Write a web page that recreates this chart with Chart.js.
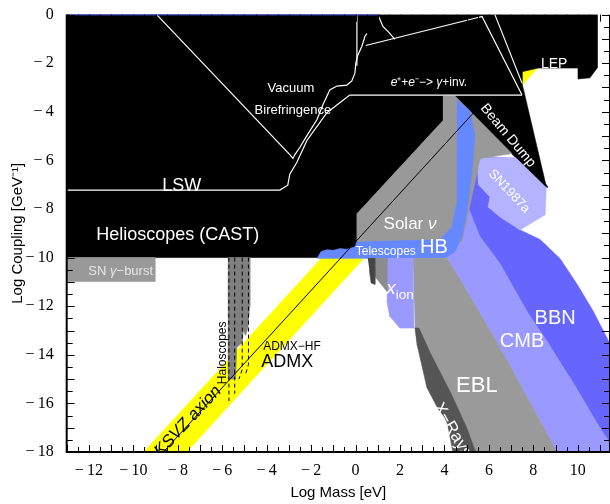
<!DOCTYPE html>
<html lang="en">
<head>
<meta charset="UTF-8">
<title>Axion-photon coupling limits</title>
<script src="https://cdn.jsdelivr.net/npm/chart.js@4.4.1/dist/chart.umd.min.js"></script>
<style>
  html, body { margin: 0; padding: 0; background: #fff; }
  #wrap { width: 610px; height: 504px; }
</style>
</head>
<body>
<div id="wrap"><canvas id="axionChart" width="610" height="504"></canvas></div>
<script>
// log10(mass / eV) and log10(coupling / GeV^-1)
const massRange = [-13, 11.45];
const couplingRange = [-18, 0];

// excluded / theory regions, as [log mass, log coupling] corners
const ksvzBand = [[-9.55, -18], [-7.6, -18], [8.6, -1.8], [6.7, -1.8]];
const lab = [[-13, 0], [10.87, 0], [10.87, -2.2], [10.55, -2.6], [10.01, -2.65], [10.01, -2.2], [8.21, -2.2],
  [7.49, -2.35], [7.49, -2.82], [8.55, -6.95], [8.66, -7.12], [8.45, -7.05], [4.47, -3.35], [3.93, -3.35],
  [3.93, -4.37], [0.06, -8.2], [0.06, -9.35], [-0.03, -10], [-13, -10]];
const bbn = [[5.3, -5.8], [6.8, -5.9], [7.4, -8.86], [8.3, -9.25], [9.2, -10.04], [9.97, -11.1], [10.69, -12.2],
  [11.45, -13.55], [11.45, -17.63], [11.0, -17.02], [9.87, -15.27], [8.66, -13.51], [7.76, -12.29],
  [6.5, -10.25], [5.6, -9.14], [5.01, -8.12]];
const cmb = [[4.7, -7.6], [5.05, -7.9], [5.6, -9.14], [6.5, -10.25], [7.76, -12.29], [8.66, -13.51], [9.87, -15.27],
  [11.0, -17.02], [11.45, -17.63], [11.45, -18], [9.07, -18], [6.5, -13.71], [4.83, -11.1], [4.11, -10.03], [4.4, -9.0]];
const sn1987a = [[5.46, -5.88], [7.2, -5.88], [8.58, -7.12], [8.53, -8.24], [7.4, -8.86], [6.5, -8.33],
  [5.96, -7.92], [6.05, -7.51], [5.51, -6.98]];
const solarNu = [[3.93, -3.35], [4.47, -3.35], [7.04, -5.72], [5.6, -5.92], [4.79, -9.35], [0.06, -9.35],
  [0.06, -8.2], [3.93, -4.37]];
const hb = [[4.56, -3.51], [5.15, -3.96], [5.37, -4.98], [5.24, -6.49], [5.01, -8.12], [4.79, -9.14], [4.47, -9.76],
  [4.02, -10.03], [-1.7, -10.03], [-1.7, -9.98], [-1.55, -9.75], [-1.3, -9.68], [-1.0, -9.7], [-0.7, -9.63],
  [-0.4, -9.66], [-0.2, -9.6], [-0.03, -9.55], [0.06, -9.35], [3.8, -9.27], [4.34, -8.73], [4.56, -7.71]];
const ebl = [[2.58, -10.03], [4.11, -10.03], [4.83, -11.1], [6.5, -13.71], [9.07, -18], [4.6, -18], [2.76, -13.55], [2.67, -12.9]];
const xRays = [[2.67, -12.9], [2.85, -12.9], [3.4, -14.0], [4.3, -15.6], [5.0, -17.0], [5.4, -18], [4.38, -18],
  [4.11, -16.69], [3.7, -16.2], [3.21, -15.35], [3.0, -14.5], [2.76, -13.55]];
const xIon = [[1.41, -10.03], [2.58, -10.03], [2.63, -12.9], [1.99, -12.9], [1.54, -12.41], [1.41, -11.8]];
const opticalGray = [[0.64, -10.03], [1.41, -10.03], [1.41, -11.39], [0.87, -10.78]];
const opticalDark = [[0.55, -10.03], [0.85, -10.03], [0.87, -11.1], [0.7, -11.05], [0.62, -10.5]];
const snGammaBurst = [[-13, -10], [-9.03, -10], [-9.03, -10.98], [-13, -10.98]];
const haloscopes = [[-5.75, -10], [-4.76, -10], [-4.76, -12.0], [-4.85, -12.9], [-4.95, -13.2], [-5.05, -13.0],
  [-5.1, -13.5], [-5.35, -13.7], [-5.4, -15.0], [-5.75, -15.0]];

// curves
const ksvzLine = [[-8.65, -18], [5.35, -4.0]];
const admxA = [[-5.70, -10], [-5.70, -15.9]];
const admxB = [[-5.44, -10], [-5.44, -15.6]];
const admxC = [[-5.1, -10], [-5.1, -14.6], [-5.25, -15.0]];
const admxD = [[-4.82, -10], [-4.82, -14.4], [-4.95, -14.8]];
const lswCurve = [[-13, -7.22], [-3.41, -7.22], [-3.05, -7.02], [-2.96, -6.57], [-2.64, -6.08], [-2.19, -5.18],
  [-1.29, -4.04], [-0.71, -3.63], [-0.26, -3.31], [7.49, -3.31]];
const vacBiref = [[-8.95, 0], [-2.96, -5.76], [-2.82, -5.92], [-2.73, -5.76], [-2.51, -5.47], [-2.19, -4.98],
  [-1.74, -4.33], [-1.47, -3.71], [-1.16, -3.10], [-0.84, -2.94], [-0.39, -2.90], [-0.17, -2.73], [-0.03, -2.41],
  [0.01, -2.0], [0.10, -1.67], [0.28, -1.31], [0.42, -0.90], [0.51, -0.78]];
const pvlasEdge = [[0.06, 0], [0.06, -2.1]];
const eeTop = [[0.46, -1.27], [5.51, -0.12], [5.69, -0.08], [7.49, -3.31]];
const eeNotch = [[1.05, -0.1], [1.23, -0.49], [1.5, -0.73], [1.77, -1.02]];
const beamDumpEdge = [[6.27, 0], [7.49, -2.82]];
const topEdge = [[-13, 0], [1.04, 0]];

const notes = [
  { parts: [['Vacuum']], x: -2.91, y: -3.02, size: 13 },
  { parts: [['Birefringence']], x: -2.82, y: -3.96, size: 13 },
  { parts: [['e', 'i'], ['\u207a+'], ['e', 'i'], ['\u207b\u2212> '], ['\u03b3', 'i'], ['+inv.']], x: 3.3, y: -2.82, size: 12 },
  { parts: [['LEP']], x: 8.94, y: -2.04, size: 14 },
  { parts: [['Beam Dump']], x: 6.86, y: -4.98, size: 14, rot: 50 },
  { parts: [['SN1987a']], x: 6.91, y: -7.27, size: 13, rot: 47 },
  { parts: [['LSW']], x: -7.82, y: -7.06, size: 18 },
  { parts: [['Helioscopes (CAST)']], x: -8.0, y: -9.06, size: 18 },
  { parts: [['SN '], ['\u03b3', 'i'], ['\u2212burst']], x: -10.57, y: -10.57, size: 13, color: '#e6e6e6' },
  { parts: [['Solar '], ['\u03bd', 'i']], x: 2.45, y: -8.61, size: 17 },
  { parts: [['HB']], x: 3.53, y: -9.6, size: 20 },
  { parts: [['Telescopes']], x: 1.36, y: -9.76, size: 12 },
  { parts: [['x', 'i'], ['ion', 'sub']], x: 2.0, y: -11.3, size: 19 },
  { parts: [['BBN']], x: 8.98, y: -12.49, size: 20 },
  { parts: [['CMB']], x: 7.49, y: -13.47, size: 20 },
  { parts: [['EBL']], x: 5.46, y: -15.27, size: 22 },
  { parts: [['X\u2212Rays']], x: 4.35, y: -17.1, size: 17, rot: 60 },
  { parts: [['ADMX\u2212HF']], x: -2.86, y: -13.67, size: 12, color: '#000' },
  { parts: [['ADMX']], x: -3.08, y: -14.29, size: 18, color: '#000' },
  { parts: [['Haloscopes']], x: -5.97, y: -13.92, size: 12, color: '#000', rot: -90 },
  { parts: [['KSVZ axion', 'i']], x: -7.55, y: -16.73, size: 17, color: '#000', rot: -47 }
];

const toXY = pts => pts.map(p => ({ x: p[0], y: p[1] }));

function region(label, pts, color) {
  return { label, data: toXY(pts), fill: 'shape', backgroundColor: color, borderColor: color,
    borderWidth: 0.6, pointRadius: 0, tension: 0 };
}
function curve(label, pts, color, width, dash) {
  return { label, data: toXY(pts), fill: false, borderColor: color, borderWidth: width,
    borderDash: dash || [], pointRadius: 0, tension: 0 };
}

// back to front
const layers = [
  region('KSVZ band', ksvzBand, '#ffff00'),
  region('Lab', lab, '#000000'),
  region('BBN', bbn, '#6666ff'),
  region('CMB', cmb, '#9999ff'),
  region('SN1987a', sn1987a, '#b3b3ff'),
  region('Solar nu', solarNu, '#999999'),
  region('HB', hb, '#6688ff'),
  region('EBL', ebl, '#9a9a9a'),
  region('xion', xIon, '#9999ff'),
  region('X-Rays', xRays, '#555555'),
  region('Optical', opticalGray, '#8c8c8c'),
  region('Optical dark', opticalDark, '#444444'),
  region('SN gamma burst', snGammaBurst, '#999999'),
  region('Haloscopes', haloscopes, '#808080'),
  curve('ADMX a', admxA, '#000', 1, [4, 3]),
  curve('ADMX b', admxB, '#000', 1, [4, 3]),
  curve('ADMX c', admxC, '#000', 1, [4, 3]),
  curve('ADMX d', admxD, '#000', 1, [4, 3]),
  curve('KSVZ', ksvzLine, '#000', 1),
  curve('LSW', lswCurve, '#fff', 1.2),
  curve('Vacuum birefringence', vacBiref, '#fff', 1.2),
  curve('PVLAS edge', pvlasEdge, '#fff', 1.2),
  curve('e+e- box', eeTop, '#fff', 1.2),
  curve('e+e- notch', eeNotch, '#fff', 1.2),
  curve('Beam dump edge', beamDumpEdge, '#fff', 1.2),
  curve('Top', topEdge, '#2b3bd6', 2)
];
layers.forEach((d, i) => { d.order = layers.length - i; });

const fmt = v => v < 0 ? '\u2212\u2009' + Math.abs(v) : String(v);

const notesPlugin = {
  id: 'notes',
  afterDatasetsDraw(chart) {
    const { ctx, chartArea: a, scales: { x, y } } = chart;
    ctx.save();
    ctx.beginPath();
    ctx.rect(a.left, a.top, a.right - a.left, a.bottom - a.top);
    ctx.clip();
    ctx.textBaseline = 'middle';
    notes.forEach(n => {
      const fontOf = (p) => {
        const sz = p[1] === 'sub' ? n.size * 0.72 : n.size;
        return (p[1] === 'i' ? 'italic ' : '') + sz + 'px "Liberation Sans", Arial, sans-serif';
      };
      let total = 0;
      n.parts.forEach(p => { ctx.font = fontOf(p); total += ctx.measureText(p[0]).width; });
      ctx.save();
      ctx.translate(x.getPixelForValue(n.x), y.getPixelForValue(n.y));
      ctx.rotate((n.rot || 0) * Math.PI / 180);
      ctx.fillStyle = n.color || '#fff';
      let cx = -total / 2;
      n.parts.forEach(p => {
        ctx.font = fontOf(p);
        ctx.textAlign = 'left';
        ctx.fillText(p[0], cx, p[1] === 'sub' ? n.size * 0.3 : 0);
        cx += ctx.measureText(p[0]).width;
      });
      ctx.restore();
    });
    ctx.restore();
  }
};

const framePlugin = {
  id: 'frame',
  afterDraw(chart) {
    const { ctx, chartArea: a, scales: { x, y } } = chart;
    ctx.save();
    ctx.strokeStyle = '#000';
    ctx.lineWidth = 1;
    ctx.beginPath();
    for (let v = -13; v <= massRange[1]; v += 0.5) {
      const px = Math.round(x.getPixelForValue(v)) + 0.5;
      const len = Number.isInteger(v) ? 7 : 5;
      ctx.moveTo(px, a.bottom); ctx.lineTo(px, a.bottom - len);
      ctx.moveTo(px, a.top); ctx.lineTo(px, a.top + len);
    }
    for (let v = -18; v <= 0; v += 0.5) {
      const py = Math.round(y.getPixelForValue(v)) + 0.5;
      const len = Number.isInteger(v) ? 8 : 6;
      ctx.moveTo(a.left, py); ctx.lineTo(a.left + len, py);
      ctx.moveTo(a.right, py); ctx.lineTo(a.right - len, py);
    }
    ctx.stroke();
    ctx.lineWidth = 2;
    ctx.beginPath();
    ctx.moveTo(a.left, a.top);
    ctx.lineTo(a.left, a.bottom);
    ctx.lineTo(a.right, a.bottom);
    ctx.lineTo(a.right, a.top);
    ctx.stroke();
    ctx.restore();
  }
};

new Chart(document.getElementById('axionChart'), {
  type: 'line',
  data: { datasets: layers },
  options: {
    responsive: false,
    animation: false,
    devicePixelRatio: 1,
    layout: { padding: { top: 11, right: 0, left: 0, bottom: 0 } },
    plugins: { legend: { display: false }, tooltip: { enabled: false } },
    scales: {
      x: {
        type: 'linear', min: massRange[0], max: massRange[1],
        grid: { display: false }, border: { display: false },
        ticks: { stepSize: 2, includeBounds: false, padding: 1, maxRotation: 0, autoSkip: false,
          color: '#000', font: { family: '"Liberation Serif", "Times New Roman", serif', size: 16 }, callback: fmt },
        title: { display: true, text: 'Log Mass [eV]', color: '#000',
          font: { family: '"Liberation Sans", Arial, sans-serif', size: 15 }, padding: { top: 0, bottom: 2 } },
        afterFit: s => { s.height = 52; }
      },
      y: {
        type: 'linear', min: couplingRange[0], max: couplingRange[1],
        grid: { display: false }, border: { display: false },
        ticks: { stepSize: 2, padding: 5, color: '#000',
          font: { family: '"Liberation Serif", "Times New Roman", serif', size: 16 }, callback: fmt },
        title: { display: true, text: 'Log Coupling [GeV\u207b\u00b9]', color: '#000',
          font: { family: '"Liberation Sans", Arial, sans-serif', size: 15 }, padding: { top: 9, bottom: 0 } },
        afterFit: s => { s.width = 66.7; }
      }
    }
  },
  plugins: [notesPlugin, framePlugin]
});
</script>
</body>
</html>
